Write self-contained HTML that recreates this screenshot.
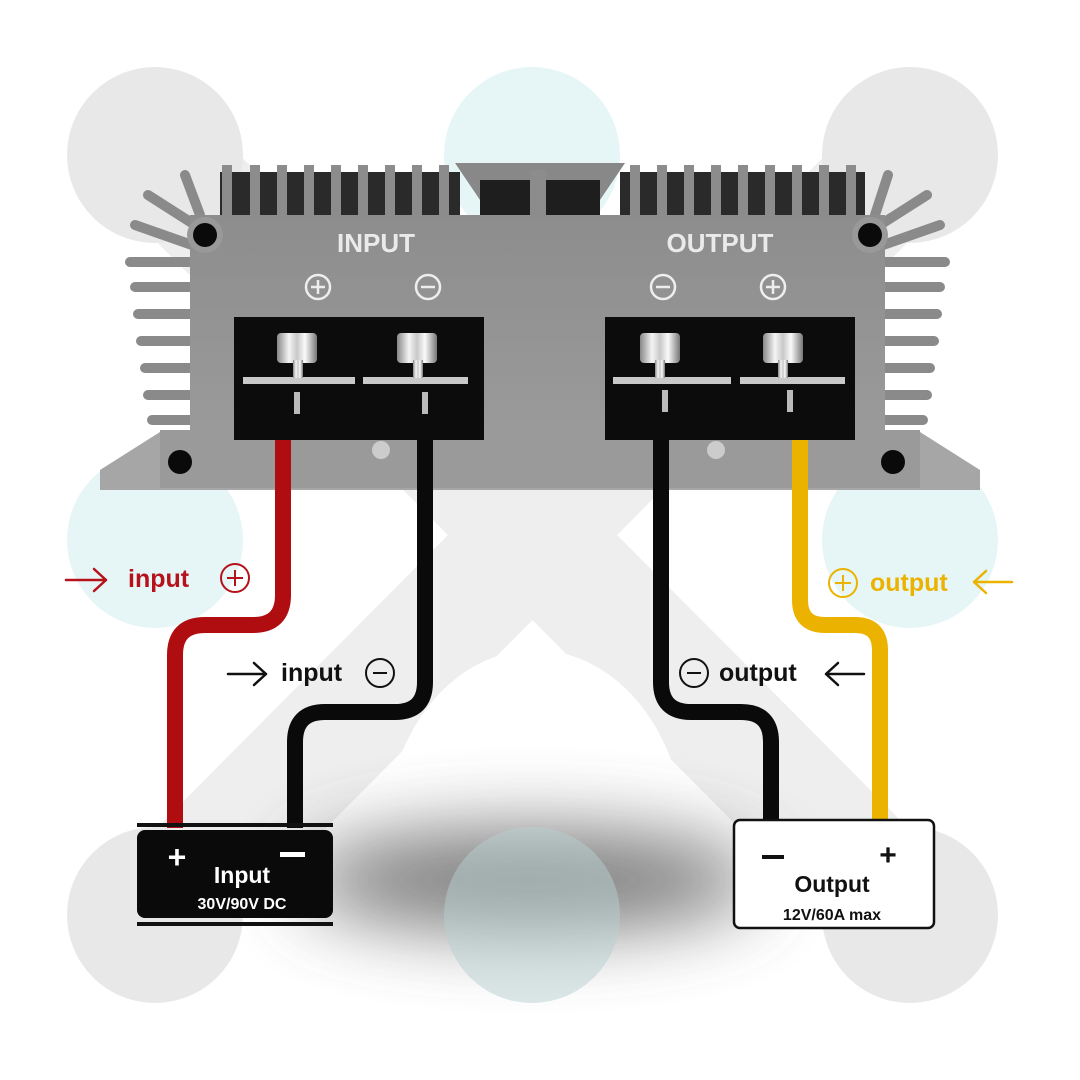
<!DOCTYPE html>
<html><head><style>
html,body{margin:0;padding:0;background:#fff;}
svg{display:block;font-family:"Liberation Sans",sans-serif;}
</style></head><body>
<svg width="1080" height="1080" viewBox="0 0 1080 1080" xmlns="http://www.w3.org/2000/svg">
<defs>
<filter id="blur2" filterUnits="userSpaceOnUse" x="0" y="600" width="1080" height="480"><feGaussianBlur stdDeviation="38"/></filter>
<linearGradient id="body" x1="0" y1="0" x2="0" y2="1"><stop offset="0" stop-color="#8d8d8d"/><stop offset="1" stop-color="#9a9a9a"/></linearGradient>
<linearGradient id="screw" x1="0" y1="0" x2="1" y2="0"><stop offset="0" stop-color="#888"/><stop offset="0.3" stop-color="#f4f4f4"/><stop offset="0.5" stop-color="#c8c8c8"/><stop offset="0.7" stop-color="#fafafa"/><stop offset="1" stop-color="#777"/></linearGradient>
</defs>
<!-- background -->
<g stroke="#eeeeee" stroke-width="120" stroke-linecap="round">
<line x1="155" y1="155" x2="910" y2="915"/>
<line x1="910" y1="155" x2="155" y2="915"/>
</g>
<ellipse cx="535" cy="840" rx="150" ry="190" fill="#fff"/>
<circle cx="155" cy="155" r="88" fill="#e8e8e8"/>
<circle cx="910" cy="155" r="88" fill="#e8e8e8"/>
<circle cx="155" cy="915" r="88" fill="#e8e8e8"/>
<circle cx="910" cy="915" r="88" fill="#e8e8e8"/>
<circle cx="532" cy="155" r="88" fill="#e6f6f6"/>
<circle cx="155" cy="540" r="88" fill="#e6f6f6"/>
<circle cx="910" cy="540" r="88" fill="#e6f6f6"/>
<ellipse cx="530" cy="880" rx="230" ry="50" fill="#555" filter="url(#blur2)" opacity="0.8"/>
<circle cx="532" cy="915" r="88" fill="#b8d0d0" opacity="0.5"/>

<!-- side fins -->
<g stroke="#8a8a8a" stroke-width="10" stroke-linecap="round">
<line x1="185" y1="175" x2="200" y2="215"/>
<line x1="148" y1="195" x2="195" y2="225"/>
<line x1="135" y1="225" x2="192" y2="245"/>
<line x1="130" y1="262" x2="192" y2="262"/>
<line x1="135" y1="287" x2="192" y2="287"/>
<line x1="138" y1="314" x2="192" y2="314"/>
<line x1="141" y1="341" x2="192" y2="341"/>
<line x1="145" y1="368" x2="192" y2="368"/>
<line x1="148" y1="395" x2="192" y2="395"/>
<line x1="152" y1="420" x2="192" y2="420"/>
<line x1="888" y1="175" x2="875" y2="215"/>
<line x1="927" y1="195" x2="880" y2="225"/>
<line x1="940" y1="225" x2="883" y2="245"/>
<line x1="945" y1="262" x2="883" y2="262"/>
<line x1="940" y1="287" x2="883" y2="287"/>
<line x1="937" y1="314" x2="883" y2="314"/>
<line x1="934" y1="341" x2="883" y2="341"/>
<line x1="930" y1="368" x2="883" y2="368"/>
<line x1="927" y1="395" x2="883" y2="395"/>
<line x1="923" y1="420" x2="883" y2="420"/>
</g>
<!-- top fins -->
<rect x="220" y="172" width="240" height="48" fill="#2a2a2a"/>
<rect x="620" y="172" width="245" height="48" fill="#2a2a2a"/>
<g fill="#8c8c8c">
<rect x="222" y="165" width="10" height="55"/><rect x="250" y="165" width="10" height="55"/><rect x="277" y="165" width="10" height="55"/><rect x="304" y="165" width="10" height="55"/><rect x="331" y="165" width="10" height="55"/><rect x="358" y="165" width="10" height="55"/><rect x="385" y="165" width="10" height="55"/><rect x="412" y="165" width="10" height="55"/><rect x="439" y="165" width="10" height="55"/>
<rect x="630" y="165" width="10" height="55"/><rect x="657" y="165" width="10" height="55"/><rect x="684" y="165" width="10" height="55"/><rect x="711" y="165" width="10" height="55"/><rect x="738" y="165" width="10" height="55"/><rect x="765" y="165" width="10" height="55"/><rect x="792" y="165" width="10" height="55"/><rect x="819" y="165" width="10" height="55"/><rect x="846" y="165" width="10" height="55"/>
</g>
<path d="M455 163 L625 163 L600 200 L600 220 L480 220 L480 200 Z" fill="#888"/>
<rect x="480" y="180" width="120" height="40" fill="#1e1e1e"/>
<rect x="530" y="170" width="16" height="50" fill="#8c8c8c"/>
<!-- flange -->
<path d="M160 432 L920 432 L980 470 L980 490 L100 490 L100 470 Z" fill="#a6a6a6"/>
<rect x="160" y="430" width="760" height="58" fill="#9a9a9a"/>
<!-- body -->
<rect x="190" y="215" width="695" height="215" fill="url(#body)"/>
<circle cx="205" cy="235" r="18" fill="#999"/>
<circle cx="205" cy="235" r="12" fill="#0a0a0a"/>
<circle cx="870" cy="235" r="18" fill="#999"/>
<circle cx="870" cy="235" r="12" fill="#0a0a0a"/>
<circle cx="180" cy="462" r="12" fill="#0a0a0a"/>
<circle cx="893" cy="462" r="12" fill="#0a0a0a"/>
<text x="376" y="252" font-size="26" font-weight="bold" fill="#eaeaea" text-anchor="middle">INPUT</text>
<text x="720" y="252" font-size="26" font-weight="bold" fill="#eaeaea" text-anchor="middle">OUTPUT</text>
<g stroke="#eee" stroke-width="2.5" fill="none">
<circle cx="318" cy="287" r="12"/><path d="M311 287h14M318 280v14"/>
<circle cx="428" cy="287" r="12"/><path d="M421 287h14"/>
<circle cx="663" cy="287" r="12"/><path d="M656 287h14"/>
<circle cx="773" cy="287" r="12"/><path d="M766 287h14M773 280v14"/>
</g>
<!-- terminal blocks -->
<rect x="234" y="317" width="250" height="123" fill="#0c0c0c"/>
<rect x="605" y="317" width="250" height="123" fill="#0c0c0c"/>
<g fill="#c9c9c9">
<rect x="243" y="377" width="112" height="7"/><rect x="363" y="377" width="105" height="7"/>
<rect x="613" y="377" width="118" height="7"/><rect x="740" y="377" width="105" height="7"/>
</g>
<g fill="url(#screw)">
<rect x="277" y="333" width="40" height="30" rx="4"/><rect x="293" y="360" width="10" height="18"/>
<rect x="397" y="333" width="40" height="30" rx="4"/><rect x="413" y="360" width="10" height="18"/>
<rect x="640" y="333" width="40" height="30" rx="4"/><rect x="655" y="360" width="10" height="18"/>
<rect x="763" y="333" width="40" height="30" rx="4"/><rect x="778" y="360" width="10" height="18"/>
</g>
<g fill="#bbb"><rect x="294" y="392" width="6" height="22"/><rect x="422" y="392" width="6" height="22"/><rect x="662" y="390" width="6" height="22"/><rect x="787" y="390" width="6" height="22"/></g>
<circle cx="381" cy="450" r="9" fill="#ccc"/>
<circle cx="716" cy="450" r="9" fill="#ccc"/>

<!-- wires -->
<g fill="none" stroke-width="16" stroke-linejoin="round">
<path d="M283 440 V595 Q283 625 253 625 H205 Q175 625 175 655 V828" stroke="#b00d10"/>
<path d="M425 440 V682 Q425 712 395 712 H325 Q295 712 295 742 V828" stroke="#0a0a0a"/>
<path d="M661 440 V682 Q661 712 691 712 H741 Q771 712 771 742 V820" stroke="#0a0a0a"/>
<path d="M800 440 V600 Q800 625 825 625 H855 Q880 625 880 650 V820" stroke="#ebb300"/>
</g>

<!-- input box -->
<rect x="137" y="823" width="196" height="4" fill="#111"/>
<rect x="137" y="830" width="196" height="88" rx="8" fill="#0a0a0a"/>
<rect x="137" y="922" width="196" height="4" fill="#111"/>
<text x="177" y="868" font-size="32" font-weight="bold" fill="#fff" text-anchor="middle">+</text>
<rect x="280" y="852" width="25" height="5" fill="#fff"/>
<text x="242" y="883" font-size="23" font-weight="bold" fill="#fff" text-anchor="middle">Input</text>
<text x="242" y="909" font-size="16" font-weight="bold" fill="#fff" text-anchor="middle">30V/90V DC</text>

<!-- output box -->
<rect x="734" y="820" width="200" height="108" rx="6" fill="#fff" stroke="#111" stroke-width="2.5"/>
<rect x="762" y="855" width="22" height="4" fill="#111"/>
<text x="888" y="865" font-size="30" font-weight="bold" fill="#111" text-anchor="middle">+</text>
<text x="832" y="892" font-size="23" font-weight="bold" fill="#111" text-anchor="middle">Output</text>
<text x="832" y="920" font-size="16" font-weight="bold" fill="#111" text-anchor="middle">12V/60A max</text>

<!-- labels -->
<g fill="none" stroke-width="2.5" stroke-linecap="round" stroke-linejoin="round">
<path d="M66 580 H106 M94 569 L106 580 L94 591" stroke="#b5121b"/>
<path d="M228 674 H266 M254 663 L266 674 L254 685" stroke="#111"/>
<path d="M826 674 H864 M838 663 L826 674 L838 685" stroke="#111"/>
<path d="M974 582 H1012 M986 571 L974 582 L986 593" stroke="#ebb300"/>
</g>
<g font-size="25" font-weight="bold">
<text x="128" y="587" fill="#b5121b">input</text>
<g stroke="#b5121b" stroke-width="2" fill="none"><circle cx="235" cy="578" r="14"/><path d="M227 578h16M235 570v16"/></g>
<text x="281" y="681" fill="#111">input</text>
<g stroke="#111" stroke-width="2" fill="none"><circle cx="380" cy="673" r="14"/><path d="M373 673h14"/></g>
<g stroke="#111" stroke-width="2" fill="none"><circle cx="694" cy="673" r="14"/><path d="M687 673h14"/></g>
<text x="719" y="681" fill="#111">output</text>
<g stroke="#ebb300" stroke-width="2" fill="none"><circle cx="843" cy="583" r="14"/><path d="M835 583h16M843 575v16"/></g>
<text x="870" y="591" fill="#ebb300">output</text>
</g>
</svg>
</body></html>
